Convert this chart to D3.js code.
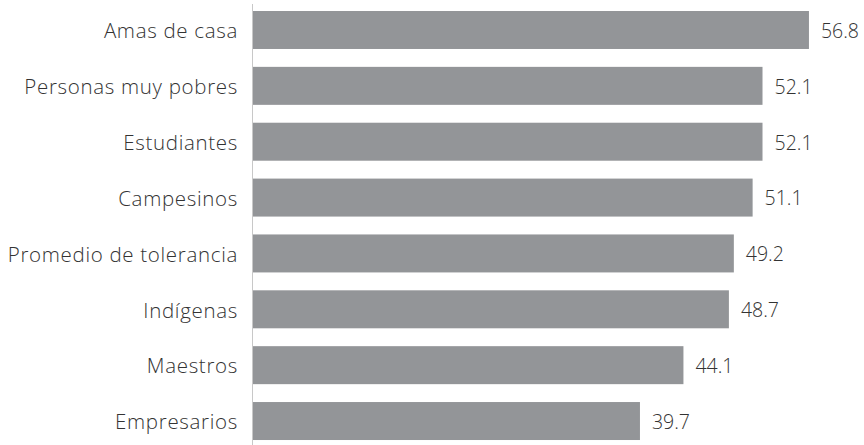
<!DOCTYPE html>
<html>
<head>
<meta charset="utf-8">
<script src="https://cdn.jsdelivr.net/npm/d3@7"></script>
<style>
  html, body { margin: 0; padding: 0; background: #fff; }
  svg text { font-family: "Open Sans", Lato, sans-serif; font-weight: 300; fill: #333; }
</style>
</head>
<body>
<svg id="chart" width="864" height="445"></svg>
<script>
// Tolerance index by group
const categories = [
  "Amas de casa",
  "Personas muy pobres",
  "Estudiantes",
  "Campesinos",
  "Promedio de tolerancia",
  "Indígenas",
  "Maestros",
  "Empresarios"
];
const values = [56.8, 52.1, 52.1, 51.1, 49.2, 48.7, 44.1, 39.7];
const valueLabels = ["56.8", "52.1", "52.1", "51.1", "49.2", "48.7", "44.1", "39.7"];

const svg = d3.select("#chart");
const axisX = 253;

const x = d3.scaleLinear().domain([0, 60]).range([247.6, 247.6 + 60 * 9.883]);
const y = d3.scaleBand().domain(categories).range([2.06, 448.96]).paddingInner(0.32).paddingOuter(0.16);

// baseline
svg.append("line")
  .attr("x1", axisX - 0.5).attr("x2", axisX - 0.5)
  .attr("y1", 4).attr("y2", 445)
  .attr("stroke", "#c8c8c8").attr("stroke-width", 1);

// bars
svg.selectAll("rect.bar")
  .data(values)
  .join("rect")
  .attr("class", "bar")
  .attr("x", axisX)
  .attr("y", (d, i) => y(categories[i]))
  .attr("width", d => x(d) - axisX)
  .attr("height", y.bandwidth())
  .attr("fill", "#939598");

// category labels
svg.selectAll("text.cat")
  .data(categories)
  .join("text")
  .attr("class", "cat")
  .attr("x", 238)
  .attr("y", d => y(d) + y.bandwidth() / 2)
  .attr("dy", "0.4em")
  .attr("text-anchor", "end")
  .attr("font-size", 20.5)
  .attr("letter-spacing", 0.68)
  .text(d => d);

// value labels
svg.selectAll("text.val")
  .data(values)
  .join("text")
  .attr("class", "val")
  .attr("x", d => x(d) + 12)
  .attr("y", (d, i) => y(categories[i]) + y.bandwidth() / 2)
  .attr("dy", "0.4em")
  .attr("font-size", 19.5)
  .text((d, i) => valueLabels[i]);
</script>
</body>
</html>
